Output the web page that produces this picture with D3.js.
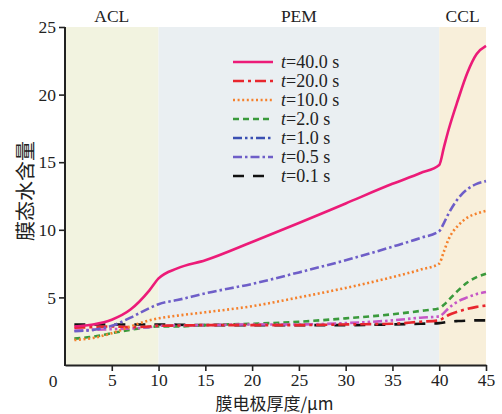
<!DOCTYPE html>
<html>
<head>
<meta charset="utf-8">
<script src="https://cdn.jsdelivr.net/npm/d3@7"></script>
<style>
  body { margin: 0; background: #fff; }
  svg { display: block; }
  text { font-family: "Liberation Serif", "DejaVu Serif", serif; fill: #222; }
  .cjk { font-family: "Noto Sans CJK SC", sans-serif; }
</style>
</head>
<body>
<svg id="chart" width="502" height="414"></svg>
<script>
// regions of the membrane electrode
const regions = [
    { name: 'ACL', from: 0, to: 10 },
    { name: 'PEM', from: 10, to: 40 },
    { name: 'CCL', from: 40, to: 45 },
];

const xTicks = [5, 10, 15, 20, 25, 30, 35, 40, 45];
const yTicks = [5, 10, 15, 20, 25];

// thickness positions (μm)
const xs = [1, 3, 5, 7, 9, 10, 12, 15, 20, 25, 30, 35, 38, 40, 40.5, 41, 42, 43, 44, 45];

const t40 = [2.85, 3.0, 3.35, 4.1, 5.5, 6.4, 7.15, 7.75, 9.1, 10.5, 11.95, 13.4, 14.2, 14.8, 16.1, 17.4, 19.6, 21.6, 23.0, 23.6];
const t20 = [2.75, 2.8, 2.85, 2.8, 2.85, 2.9, 2.92, 2.95, 2.95, 2.95, 3.0, 3.05, 3.2, 3.3, 3.5, 3.7, 3.95, 4.15, 4.3, 4.4];
const t10 = [1.85, 2.0, 2.35, 2.85, 3.3, 3.45, 3.65, 3.9, 4.35, 5.0, 5.7, 6.5, 7.05, 7.5, 8.4, 9.3, 10.3, 10.9, 11.2, 11.4];
const t2 = [1.95, 2.1, 2.35, 2.6, 2.8, 2.85, 2.85, 2.95, 3.05, 3.2, 3.45, 3.75, 4.0, 4.2, 4.45, 4.8, 5.5, 6.1, 6.5, 6.75];
const t1 = [2.55, 2.6, 2.65, 2.7, 2.8, 2.9, 2.92, 2.95, 3.0, 3.0, 3.1, 3.3, 3.5, 3.6, 3.85, 4.2, 4.7, 5.0, 5.25, 5.4];
const t05 = [2.5, 2.6, 2.9, 3.5, 4.2, 4.5, 4.8, 5.3, 6.0, 6.85, 7.75, 8.75, 9.4, 9.9, 10.5, 11.2, 12.3, 13.0, 13.4, 13.6];
const t01 = [3.0, 3.0, 3.0, 3.0, 3.0, 3.0, 2.98, 2.95, 2.95, 2.95, 2.95, 3.0, 3.05, 3.1, 3.15, 3.2, 3.25, 3.28, 3.3, 3.3];

const seriesNames = ['t=40.0 s', 't=20.0 s', 't=10.0 s', 't=2.0 s', 't=1.0 s', 't=0.5 s', 't=0.1 s'];
const seriesValues = [t40, t20, t10, t2, t1, t05, t01];

// line styles, in the same order as the series
const styles = [
    { color: '#ec1b78', legend: '#ec1b78', dash: null },
    { color: '#e8262e', legend: '#e8262e', dash: '11,4,3,4' },
    { color: '#f5812c', legend: '#f5812c', dash: '2,2.6' },
    { color: '#3a9a3c', legend: '#3a9a3c', dash: '6,4' },
    { color: '#c656c6', legend: '#3a4fb2', dash: '9,3,2.5,3,2.5,3' },
    { color: '#6e5ec8', legend: '#6e5ec8', dash: '9,3,2.5,3' },
    { color: '#111111', legend: '#111111', dash: '11,9' },
];
const bandColors = ['#f2f3e0', '#eaeff2', '#f8efda'];

const svg = d3.select('#chart');
const margin = { left: 65, right: 16, top: 27, bottom: 49 };
const width = 502 - margin.left - margin.right;
const height = 414 - margin.top - margin.bottom;

const x = d3.scaleLinear().domain([0, 45]).range([0, width]);
const y = d3.scaleLinear().domain([0, 25]).range([height, 0]);

const g = svg.append('g').attr('transform', `translate(${margin.left},${margin.top})`);

// region bands
g.selectAll('rect.band')
    .data(regions)
    .enter()
    .append('rect')
    .attr('class', 'band')
    .attr('x', d => x(d.from))
    .attr('y', 0)
    .attr('width', d => x(d.to) - x(d.from))
    .attr('height', height)
    .attr('fill', (d, i) => bandColors[i]);

g.selectAll('text.region')
    .data(regions)
    .enter()
    .append('text')
    .attr('class', 'region')
    .attr('x', d => x((d.from + d.to) / 2))
    .attr('y', -5)
    .attr('text-anchor', 'middle')
    .attr('font-size', 17.5)
    .text(d => d.name);

// curves
const line = d3.line()
    .x((d, i) => x(xs[i]))
    .y(d => y(d))
    .curve(d3.curveMonotoneX);

// draw from the back so the pink one is on top
const order = [6, 3, 4, 1, 2, 5, 0];
g.selectAll('path.series')
    .data(order)
    .enter()
    .append('path')
    .attr('class', 'series')
    .attr('d', i => line(seriesValues[i]))
    .attr('fill', 'none')
    .attr('stroke', i => styles[i].color)
    .attr('stroke-width', 2.6)
    .attr('stroke-dasharray', i => styles[i].dash);

// axes
const xAxis = g.append('g')
    .attr('transform', `translate(0,${height})`)
    .call(d3.axisBottom(x).tickValues(xTicks).tickSize(6).tickSizeOuter(0).tickPadding(3));
const yAxis = g.append('g')
    .call(d3.axisLeft(y).tickValues(yTicks).tickSize(6).tickSizeOuter(0).tickPadding(3));

[xAxis, yAxis].forEach(a => {
    a.select('.domain').attr('stroke', '#222').attr('stroke-width', 2);
    a.selectAll('.tick line').attr('stroke', '#222').attr('stroke-width', 1.6);
    a.selectAll('.tick text')
        .attr('font-family', '"Liberation Serif", serif')
        .attr('font-size', 17.5)
        .attr('fill', '#222');
});
// extend the y axis down to the corner
yAxis.select('.domain').attr('d', `M0,0V${height + 1}`);

// shared origin label
g.append('text')
    .attr('x', -12)
    .attr('y', height + 22)
    .attr('text-anchor', 'middle')
    .attr('font-size', 17.5)
    .text('0');

// axis titles
g.append('text')
    .attr('class', 'cjk')
    .attr('x', width / 2 - 1)
    .attr('y', height + 45)
    .attr('text-anchor', 'middle')
    .attr('font-size', 17)
    .text('膜电极厚度/μm');

g.append('text')
    .attr('class', 'cjk')
    .attr('transform', `translate(-32,${height / 2 - 5}) rotate(-90)`)
    .attr('text-anchor', 'middle')
    .attr('font-size', 20)
    .text('膜态水含量');

// legend
const legend = g.append('g').attr('transform', `translate(168,35)`);
const rows = legend.selectAll('g')
    .data(seriesNames)
    .enter()
    .append('g')
    .attr('transform', (d, i) => `translate(0,${i * 19})`);

rows.append('line')
    .attr('x1', 0)
    .attr('x2', 40)
    .attr('stroke', (d, i) => styles[i].legend)
    .attr('stroke-width', 2.6)
    .attr('stroke-dasharray', (d, i) => styles[i].dash);

const labels = rows.append('text')
    .attr('x', 48)
    .attr('y', 6)
    .attr('font-size', 18);
labels.append('tspan').attr('font-style', 'italic').text(d => d.split('=')[0]);
labels.append('tspan').text(d => '=' + d.split('=')[1]);
</script>
</body>
</html>
